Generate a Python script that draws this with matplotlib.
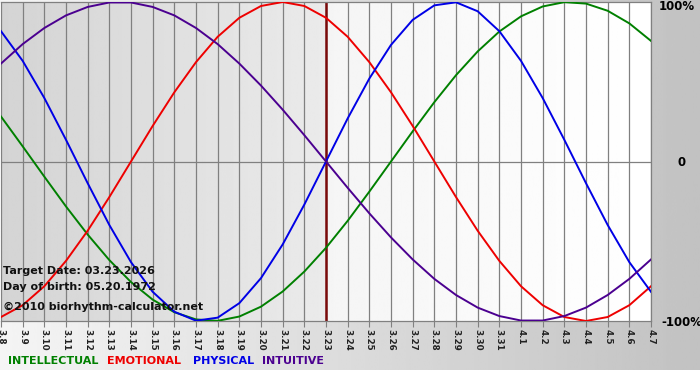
import numpy as np
import matplotlib
matplotlib.use("Agg")
import matplotlib.pyplot as plt

# day labels from 3.8 to 4.7, target date is 3.23
days = ["3.8", "3.9", "3.10", "3.11", "3.12", "3.13", "3.14", "3.15", "3.16", "3.17",
        "3.18", "3.19", "3.20", "3.21", "3.22", "3.23", "3.24", "3.25", "3.26", "3.27",
        "3.28", "3.29", "3.30", "3.31", "4.1", "4.2", "4.3", "4.4", "4.5", "4.6", "4.7"]
target = "3.23"

physical = [0.817, 0.631, 0.398, 0.136, -0.136, -0.398, -0.631, -0.817, -0.942, -0.998,
            -0.979, -0.888, -0.731, -0.520, -0.270, 0.0, 0.270, 0.520, 0.731, 0.888,
            0.979, 0.998, 0.942, 0.817, 0.631, 0.398, 0.136, -0.136, -0.398, -0.631, -0.817]
emotional = [-0.975, -0.901, -0.782, -0.623, -0.434, -0.223, 0.0, 0.223, 0.434, 0.623,
             0.782, 0.901, 0.975, 1.0, 0.975, 0.901, 0.782, 0.623, 0.434, 0.223,
             0.0, -0.223, -0.434, -0.623, -0.782, -0.901, -0.975, -1.0, -0.975, -0.901, -0.782]
intellectual = [0.282, 0.095, -0.095, -0.282, -0.458, -0.618, -0.756, -0.866, -0.945, -0.990,
                -0.999, -0.972, -0.910, -0.815, -0.690, -0.541, -0.372, -0.189, 0.0, 0.189,
                0.372, 0.541, 0.690, 0.815, 0.910, 0.972, 0.999, 0.990, 0.945, 0.866, 0.756]
intuitive = [0.614, 0.736, 0.837, 0.916, 0.969, 0.997, 0.997, 0.969, 0.916, 0.837,
             0.736, 0.614, 0.476, 0.325, 0.165, 0.0, -0.165, -0.325, -0.476, -0.614,
             -0.736, -0.837, -0.916, -0.969, -0.997, -0.997, -0.969, -0.916, -0.837, -0.736, -0.614]

c_int = "#008000"
c_emo = "#ee0000"
c_phy = "#0000e6"
c_itu = "#4b0090"

W, H = 700, 380
fig = plt.figure(figsize=(7, 3.8), dpi=100)
fig.patch.set_facecolor("white")

# grey gradient behind everything
bg = fig.add_axes([0, 10 / H, 1, 1 - 10 / H], zorder=-10)
grad = np.linspace(0.96, 0.76, 256).reshape(1, -1)
bg.imshow(grad, cmap="gray", vmin=0, vmax=1, aspect="auto", extent=[0, 1, 0, 1])
bg.axis("off")

ax = fig.add_axes([1 / W, 1 - 321 / H, 650 / W, 319 / H])
x = np.arange(len(days))
ti = days.index(target)
ax.set_xlim(0, len(days) - 1)
ax.set_ylim(-1, 1)

# shading: past days grey, future days white
left = np.linspace(0.83, 0.92, 256).reshape(1, -1)
right = np.linspace(0.96, 1.0, 256).reshape(1, -1)
ax.imshow(left, cmap="gray", vmin=0, vmax=1, aspect="auto", extent=[0, ti, -1, 1], zorder=0)
ax.imshow(right, cmap="gray", vmin=0, vmax=1, aspect="auto", extent=[ti, len(days) - 1, -1, 1], zorder=0)

for xi in x:
    ax.axvline(xi, color="#808080", lw=0.9, zorder=1)
ax.axhline(0, color="#808080", lw=0.9, zorder=1)
ax.axvline(ti, color="#7a0a0a", lw=1.8, zorder=2)

ax.plot(x, intellectual, color=c_int, lw=1.4, zorder=3)
ax.plot(x, emotional, color=c_emo, lw=1.4, zorder=3)
ax.plot(x, physical, color=c_phy, lw=1.4, zorder=3)
ax.plot(x, intuitive, color=c_itu, lw=1.4, zorder=3)

for s in ax.spines.values():
    s.set_color("#808080")
    s.set_linewidth(0.9)
ax.spines["left"].set_visible(False)

ax.set_xticks(x)
ax.set_xticklabels(days, rotation=-90, fontsize=6.3, fontweight="bold", color="#222222")
ax.tick_params(axis="x", length=4, width=0.8, color="#808080", pad=2)
ax.set_yticks([])

# right side labels
fig.text(659 / W, 1 - 7 / H, "100%", fontsize=8.5, fontweight="bold", va="center", ha="left")
fig.text(678 / W, 1 - 162 / H, "0", fontsize=8.5, fontweight="bold", va="center", ha="left")
fig.text(661 / W, 1 - 322 / H, "-100%", fontsize=8.5, fontweight="bold", va="center", ha="left")

# info text
fig.text(3 / W, 1 - 271 / H, "Target Date: 03.23.2026", fontsize=8, fontweight="bold", va="center", color="#111111")
fig.text(3 / W, 1 - 287 / H, "Day of birth: 05.20.1972", fontsize=8, fontweight="bold", va="center", color="#111111")
fig.text(3 / W, 1 - 307 / H, "\u00a92010 biorhythm-calculator.net", fontsize=8, fontweight="bold", va="center", color="#111111")

# legend words
fig.text(8 / W, 1 - 361 / H, "INTELLECTUAL", fontsize=8, fontweight="bold", color=c_int, va="center")
fig.text(107 / W, 1 - 361 / H, "EMOTIONAL", fontsize=8, fontweight="bold", color=c_emo, va="center")
fig.text(193 / W, 1 - 361 / H, "PHYSICAL", fontsize=8, fontweight="bold", color=c_phy, va="center")
fig.text(262 / W, 1 - 361 / H, "INTUITIVE", fontsize=8, fontweight="bold", color=c_itu, va="center")

fig.savefig("out.png", dpi=100)
